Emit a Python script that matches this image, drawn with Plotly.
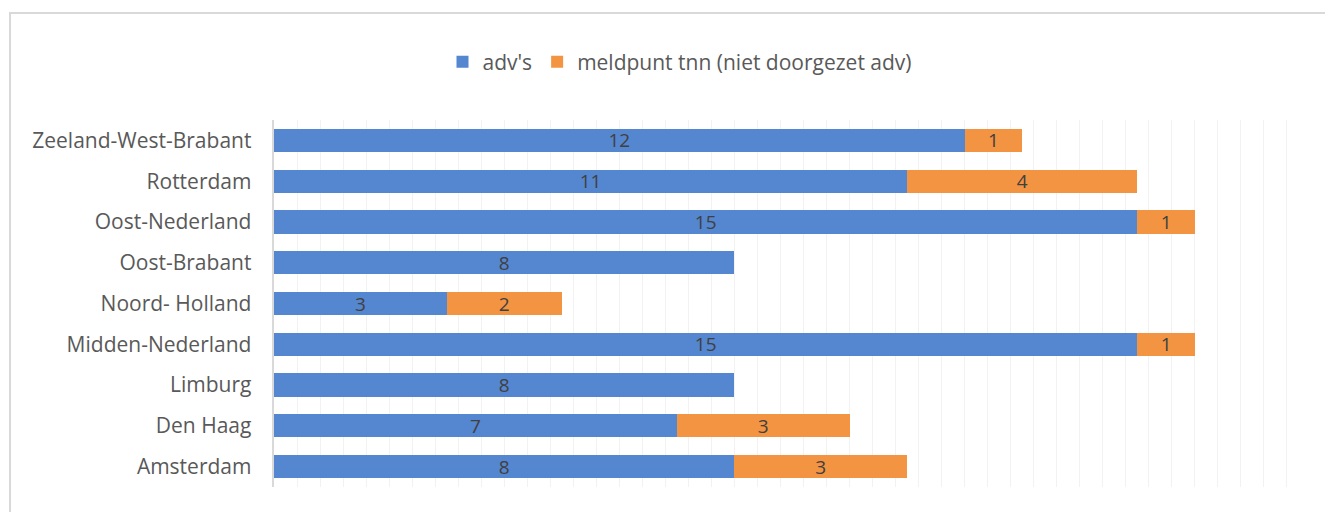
import plotly.graph_objects as go

categories = ["Amsterdam", "Den Haag", "Limburg", "Midden-Nederland", "Noord- Holland",
              "Oost-Brabant", "Oost-Nederland", "Rotterdam", "Zeeland-West-Brabant"]
advs = [8, 7, 8, 15, 3, 8, 15, 11, 12]
meldpunt = [3, 3, None, 1, 2, None, 1, 4, 1]

# page body has an 8px offset; figure origin is at (8, 8) in the window
OFF = 8
W, H = 1333 - OFF, 512 - OFF
L, T = 274 - OFF, 120 - OFF
pw = 1036
ph = 487 - 120
R = W - L - pw
B = H - T - ph

FONT = "Open Sans"

fig = go.Figure()
fig.add_trace(go.Bar(y=categories, x=advs, name="adv's", orientation="h",
                     marker=dict(color="#5586D0", line=dict(width=0)),
                     text=advs, textposition="inside", insidetextanchor="middle", textangle=0,
                     constraintext="none",
                     textfont=dict(color="#404040", size=19, family=FONT),
                     width=0.57))
fig.add_trace(go.Bar(y=categories, x=meldpunt, name="meldpunt tnn (niet doorgezet adv)", orientation="h",
                     marker=dict(color="#F39442", line=dict(width=0)),
                     text=meldpunt, textposition="inside", insidetextanchor="middle", textangle=0,
                     constraintext="none",
                     textfont=dict(color="#404040", size=19, family=FONT),
                     width=0.57))

fig.update_layout(
    barmode="stack",
    width=W, height=H,
    margin=dict(l=L, r=R, t=T, b=B, autoexpand=False),
    paper_bgcolor="white", plot_bgcolor="white",
    font=dict(family=FONT, color="#595959", size=21),
    showlegend=True,
    legend=dict(orientation="h", x=(680 - OFF) / W, xref="container", xanchor="center",
                y=1 - (62 - OFF) / H, yref="container", yanchor="middle",
                font=dict(size=21, color="#595959"), traceorder="normal"),
    xaxis=dict(range=[0, 18], dtick=0.4, showticklabels=False, showgrid=True,
               gridcolor="#F2F2F2", gridwidth=1, zeroline=False, showline=False, fixedrange=True,
               automargin=False),
    yaxis=dict(categoryorder="array", categoryarray=categories, showline=True, linecolor="#D9D9D9",
               linewidth=2, ticks="", tickfont=dict(size=21, color="#595959"), ticksuffix="   ",
               showgrid=False, automargin=False),
    shapes=[dict(type="rect", xref="paper", yref="paper",
                 x0=(10 - 274) / pw, x1=(1345 - 274) / pw,
                 y0=-(525 - 487) / ph, y1=1 + (120 - 13) / ph,
                 line=dict(color="#D9D9D9", width=2), fillcolor="rgba(0,0,0,0)", layer="below")],
)
fig.write_html("out.html")
